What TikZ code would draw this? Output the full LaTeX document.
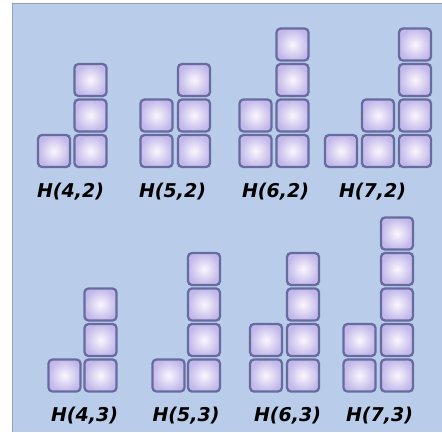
\documentclass[tikz,border=0pt]{standalone}
\usepackage{fontspec}
\newfontfamily\lblfont{DejaVu Sans}
\usetikzlibrary{positioning}
\definecolor{panelblue}{HTML}{B9CCE9}
\definecolor{paneledge}{HTML}{8FA2C6}
\definecolor{blkedge}{HTML}{676CA0}
\definecolor{blkfill}{HTML}{C2B9EA}
\definecolor{blkglow}{HTML}{FBF6FD}

\begin{document}
\begin{tikzpicture}[
  x=1pt, y=-1pt,
  blk/.style={draw=blkedge, line width=2.3pt, rounded corners=4pt,
              minimum size=32pt, inner sep=0pt, shading=radial,
              inner color=blkglow, outer color=blkfill},
  lbl/.style={font=\lblfont\bfseries\itshape\fontsize{19}{19}\selectfont,
              text=black, inner sep=0pt},
]
\useasboundingbox (0,0) rectangle (442,432);

% ---------------- panel ----------------
\fill[panelblue] (12,3) rectangle (442,432);
\draw[paneledge, line width=1.2pt] (12.6,432) -- (12.6,3.6) -- (442,3.6);

% ---------------- top row: H(n,2) ----------------
\node[blk] (a1b1) at (54,151) {};
\foreach \r in {1,...,3}
  \node[blk] (a2b\r) at (90.5,{151-35.5*(\r-1)}) {};
\node[lbl] (la) at (70.5,192) {H(4,2)};

\foreach \r in {1,2}
  \node[blk] (b1b\r) at (156.5,{151-35.5*(\r-1)}) {};
\foreach \r in {1,...,3}
  \node[blk] (b2b\r) at (194,{151-35.5*(\r-1)}) {};
\node[lbl] (lb) at (172.5,192) {H(5,2)};

\foreach \r in {1,2}
  \node[blk] (c1b\r) at (255.5,{151-35.5*(\r-1)}) {};
\foreach \r in {1,...,4}
  \node[blk] (c2b\r) at (292.5,{151-35.5*(\r-1)}) {};
\node[lbl] (lc) at (275.5,192) {H(6,2)};

\node[blk] (d1b1) at (341,151) {};
\foreach \r in {1,2}
  \node[blk] (d2b\r) at (378,{151-35.5*(\r-1)}) {};
\foreach \r in {1,...,4}
  \node[blk] (d3b\r) at (415,{151-35.5*(\r-1)}) {};
\node[lbl] (ld) at (372.5,192) {H(7,2)};

% ---------------- bottom row: H(n,3) ----------------
\node[blk] (e1b1) at (64.5,375.5) {};
\foreach \r in {1,...,3}
  \node[blk] (e2b\r) at (100.5,{375.5-35.5*(\r-1)}) {};
\node[lbl] (le) at (84.5,416) {H(4,3)};

\node[blk] (f1b1) at (168.5,375.5) {};
\foreach \r in {1,...,4}
  \node[blk] (f2b\r) at (204,{375.5-35.5*(\r-1)}) {};
\node[lbl] (lf) at (186,416) {H(5,3)};

\foreach \r in {1,2}
  \node[blk] (g1b\r) at (266,{375.5-35.5*(\r-1)}) {};
\foreach \r in {1,...,4}
  \node[blk] (g2b\r) at (303,{375.5-35.5*(\r-1)}) {};
\node[lbl] (lg) at (287.5,416) {H(6,3)};

\foreach \r in {1,2}
  \node[blk] (h1b\r) at (359.5,{375.5-35.5*(\r-1)}) {};
\foreach \r in {1,...,5}
  \node[blk] (h2b\r) at (397,{375.5-35.5*(\r-1)}) {};
\node[lbl] (lh) at (379.5,416) {H(7,3)};

\end{tikzpicture}
\end{document}
